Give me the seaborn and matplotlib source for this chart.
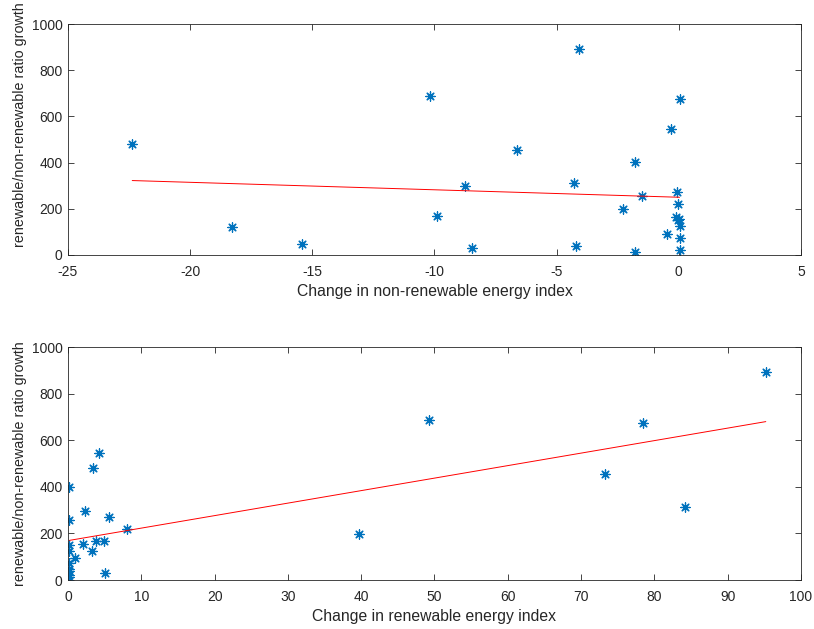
import numpy as np
import pandas as pd
import matplotlib
matplotlib.use("Agg")
import matplotlib.pyplot as plt
import seaborn as sns

# ratio growth, with the matching changes in the two energy indices
ratio_growth = [893, 687, 675, 544, 479, 455, 401, 312, 298, 272, 256, 221, 197,
                167, 166, 155, 150, 124, 123, 93, 73, 48, 40, 30, 20, 12]
nonrenew_change = [-4.07, -10.17, 0.03, -0.3, -22.37, -6.61, -1.8, -4.3, -8.74, -0.07,
                   -1.52, -0.03, -2.28, -9.9, -0.13, 0.0, -0.05, 0.03, -18.27, -0.48,
                   0.03, -15.43, -4.19, -8.47, 0.03, -1.8]
renew_change = [95.2, 49.3, 78.4, 4.26, 3.35, 73.3, 0.2, 84.2, 2.27, 5.53,
                0.2, 8.0, 39.7, 4.94, 3.85, 2.04, 0.2, 0.2, 3.26, 0.9,
                0.2, 0.2, 0.2, 5.07, 0.2, 0.2]

df = pd.DataFrame({"growth": ratio_growth,
                   "nonrenew": nonrenew_change,
                   "renew": renew_change})

sns.set_theme(style="white")
plt.rcParams["font.family"] = ["Liberation Sans", "DejaVu Sans"]
plt.rcParams["axes.unicode_minus"] = False

fig = plt.figure(figsize=(8.14, 6.29), dpi=100)
ax1 = fig.add_axes([0.0835, 0.5946, 0.9005, 0.3672])
ax2 = fig.add_axes([0.0835, 0.0779, 0.9005, 0.3704])

ylab = "renewable/non-renewable ratio growth"
blue = "#0072BD"
edge = "#262626"

panels = [
    (ax1, "nonrenew", "Change in non-renewable energy index", (-25, 5), np.arange(-25, 6, 5), 0.563),
    (ax2, "renew", "Change in renewable energy index", (0, 100), np.arange(0, 101, 10), 0.5),
]

for ax, col, xlab, xlim, xticks, ylab_pos in panels:
    sns.regplot(data=df, x=col, y="growth", ax=ax, ci=None,
                marker=(8, 2, 0), color=blue,
                scatter_kws=dict(s=45, linewidths=0.9, alpha=1),
                line_kws=dict(color="red", lw=0.7))
    ax.set_xlim(*xlim)
    ax.set_ylim(0, 1000)
    ax.set_xticks(xticks)
    ax.set_yticks(np.arange(0, 1001, 200))
    ax.set_xlabel(xlab, fontsize=11.3, color=edge, labelpad=3.5)
    ax.set_ylabel(ylab, fontsize=10.3, color=edge)
    ax.yaxis.set_label_coords(-0.056, ylab_pos)
    ax.tick_params(direction="in", length=4, width=0.6, colors=edge,
                   labelsize=10, top=True, right=True,
                   bottom=True, left=True)
    ax.tick_params(axis="x", pad=7.5)
    ax.tick_params(axis="y", pad=4)
    for s in ax.spines.values():
        s.set_visible(True)
        s.set_color(edge)
        s.set_linewidth(0.6)

fig.savefig("out.png", dpi=100, facecolor="white")
